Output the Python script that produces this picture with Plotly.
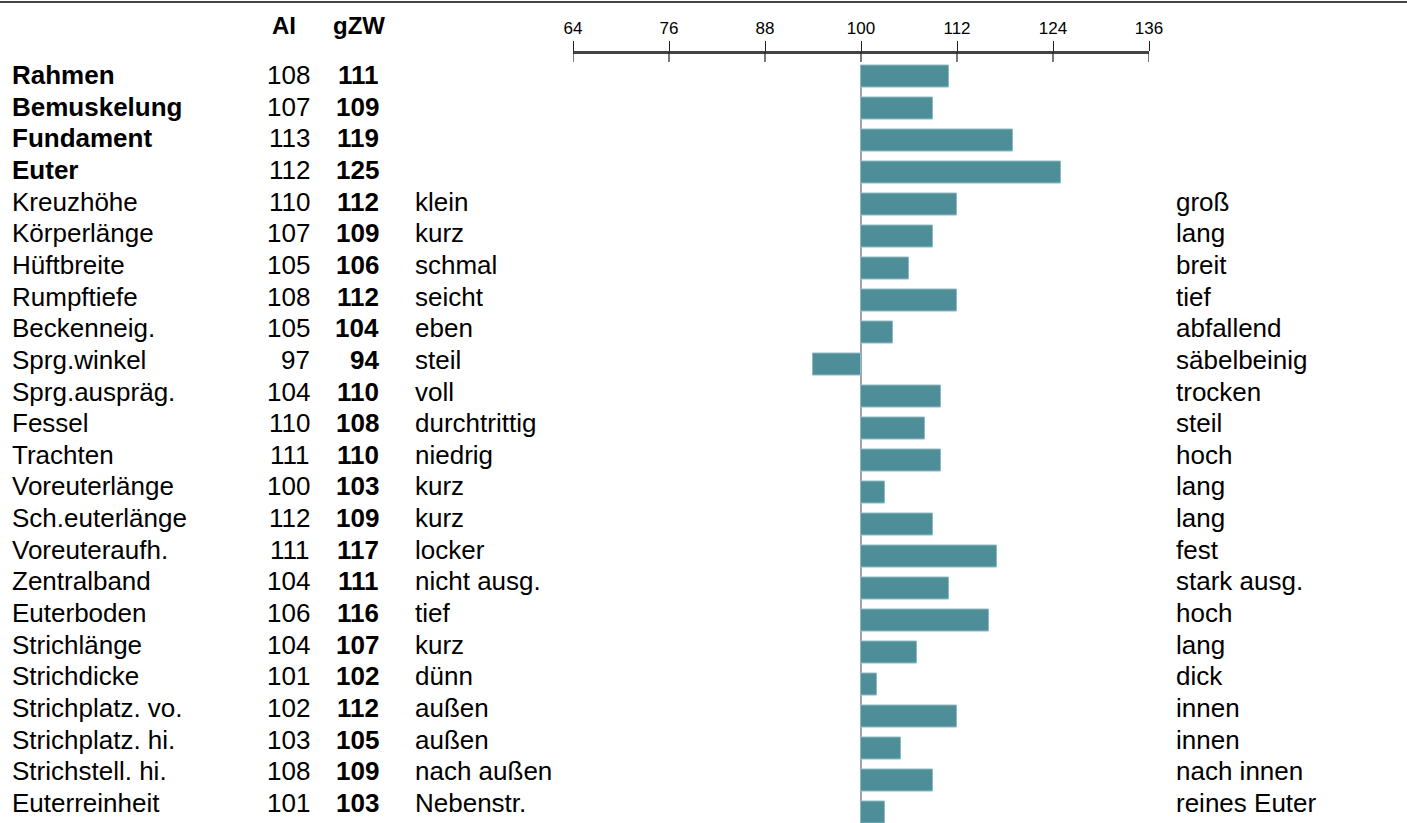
import plotly.graph_objects as go

traits = ["Rahmen", "Bemuskelung", "Fundament", "Euter", "Kreuzhöhe", "Körperlänge",
          "Hüftbreite", "Rumpftiefe", "Beckenneig.", "Sprg.winkel", "Sprg.auspräg.",
          "Fessel", "Trachten", "Voreuterlänge", "Sch.euterlänge", "Voreuteraufh.",
          "Zentralband", "Euterboden", "Strichlänge", "Strichdicke", "Strichplatz. vo.",
          "Strichplatz. hi.", "Strichstell. hi.", "Euterreinheit"]
bold_traits = ["Rahmen", "Bemuskelung", "Fundament", "Euter"]
ai = [108, 107, 113, 112, 110, 107, 105, 108, 105, 97, 104, 110, 111, 100, 112, 111,
      104, 106, 104, 101, 102, 103, 108, 101]
gzw = [111, 109, 119, 125, 112, 109, 106, 112, 104, 94, 110, 108, 110, 103, 109, 117,
       111, 116, 107, 102, 112, 105, 109, 103]
left_desc = ["", "", "", "", "klein", "kurz", "schmal", "seicht", "eben", "steil", "voll",
             "durchtrittig", "niedrig", "kurz", "kurz", "locker", "nicht ausg.", "tief",
             "kurz", "dünn", "außen", "außen", "nach außen", "Nebenstr."]
right_desc = ["", "", "", "", "groß", "lang", "breit", "tief", "abfallend", "säbelbeinig",
              "trocken", "steil", "hoch", "lang", "lang", "fest", "stark ausg.", "hoch",
              "lang", "dick", "innen", "innen", "nach innen", "reines Euter"]
tick_vals = [64, 76, 88, 100, 112, 124, 136]
base_value = 100

W, H = 1407, 823
FONT = "Liberation Sans, Arial, sans-serif"
BAR = "#4E8E99"
TEXT_TOP, TEXT_PITCH = 75, 31.65  # layout of the text table (pixels)


def px(x):
    return x / W


def py(y):
    return 1 - y / H


rows = list(range(len(traits)))

fig = go.Figure()
fig.add_trace(go.Bar(
    y=rows, x=[g - base_value for g in gzw], base=base_value, orientation="h",
    width=0.665, marker=dict(color=BAR, line=dict(color="#8FBAC1", width=1)),
    hoverinfo="skip", showlegend=False,
))

ann = []
for i, t in enumerate(traits):
    yy = py(TEXT_TOP + TEXT_PITCH * i)
    b = t in bold_traits
    common = dict(xref="paper", yref="paper", y=yy, yanchor="middle", showarrow=False,
                  font=dict(size=26, family=FONT, color="black"))
    ann.append(dict(x=px(10), xanchor="left", text=f"<b>{t}</b>" if b else t, **common))
    ann.append(dict(x=px(312), xanchor="right", text=str(ai[i]), **common))
    ann.append(dict(x=px(381), xanchor="right", text=f"<b>{gzw[i]}</b>", **common))
    if left_desc[i]:
        ann.append(dict(x=px(413), xanchor="left", text=left_desc[i], **common))
    if right_desc[i]:
        ann.append(dict(x=px(1174), xanchor="left", text=right_desc[i], **common))

ann.append(dict(x=px(283.5), y=py(26), xref="paper", yref="paper", xanchor="center",
                yanchor="middle", text="<b>AI</b>", showarrow=False,
                font=dict(size=24, family=FONT, color="black")))
ann.append(dict(x=px(359), y=py(26), xref="paper", yref="paper", xanchor="center",
                yanchor="middle", text="<b>gZW</b>", showarrow=False,
                font=dict(size=24, family=FONT, color="black")))

shapes = [
    # top rule
    dict(type="line", xref="paper", yref="paper", x0=0, x1=1, y0=py(2), y1=py(2),
         line=dict(color="#444444", width=2)),
    # baseline at 100
    dict(type="line", xref="x", yref="y", x0=base_value, x1=base_value, y0=-0.333, y1=23.4,
         line=dict(color="#6F8C92", width=1.5), layer="below"),
]
# lower halves of axis ticks
for t in tick_vals:
    shapes.append(dict(type="line", xref="x", yref="paper", x0=t, x1=t, y0=py(52), y1=py(62),
                       line=dict(color="#222222", width=1.2)))

fig.update_layout(
    autosize=True,
    margin=dict(l=0, r=0, t=0, b=0, pad=0, autoexpand=False),
    paper_bgcolor="white", plot_bgcolor="white",
    font=dict(family=FONT, color="black"),
    xaxis=dict(domain=[px(573), px(1149)], range=[64, 136], side="top", anchor="free",
               position=py(52), tickvals=tick_vals, ticktext=[str(v) for v in tick_vals],
               ticks="outside", ticklen=10, tickwidth=1.2, tickcolor="#222222",
               showline=True, linecolor="#444444", linewidth=2.5, showgrid=False,
               zeroline=False, tickfont=dict(size=17, family=FONT, color="black"),
               fixedrange=True),
    yaxis=dict(domain=[0, py(60.5)], range=[23.33, -0.5], showticklabels=False,
               showgrid=False, zeroline=False, showline=False, ticks="", fixedrange=True),
    annotations=ann, shapes=shapes, bargap=0,
)

fig.write_html(
    "out.html",
    config={"displayModeBar": False, "responsive": True},
    default_width="100vw", default_height="100vh",
    post_script="document.body.style.margin='0';document.body.style.padding='0';"
                "document.body.style.overflow='hidden';"
                "document.documentElement.style.overflow='hidden';",
)
